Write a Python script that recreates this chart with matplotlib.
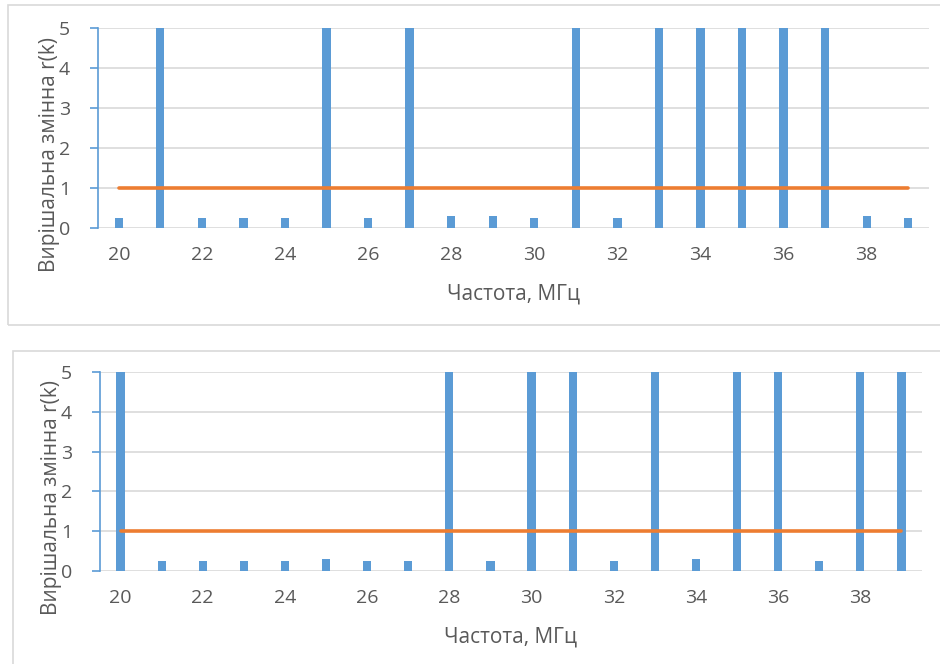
import matplotlib.pyplot as plt
from matplotlib.patches import Rectangle

# Частоти, МГц
freqs = list(range(20, 40))
# Вирішальна змінна r(k), верхній графік
r_top = [0.25, 5, 0.25, 0.25, 0.25, 5, 0.25, 5, 0.3, 0.3,
         0.25, 5, 0.25, 5, 5, 5, 5, 5, 0.3, 0.25]
# Вирішальна змінна r(k), нижній графік
r_bottom = [5, 0.25, 0.25, 0.25, 0.25, 0.3, 0.25, 0.25, 5, 0.25,
            5, 5, 0.25, 5, 0.3, 5, 5, 0.25, 5, 5]
# Поріг
threshold = [1] * len(freqs)
tick_labels = [str(f) if f % 2 == 0 else '' for f in freqs]

W, H = 940, 664
plt.rcParams['font.family'] = ['Open Sans', 'DejaVu Sans']
text_color = '#595959'
blue = '#5B9BD5'
orange = '#ED7D31'

fig = plt.figure(figsize=(W / 100, H / 100), dpi=100)


def px_axes(left, top, right, bottom):
    return fig.add_axes([left / W, 1 - bottom / H, (right - left) / W, (bottom - top) / H])


def frame(left, top, right, bottom):
    r = Rectangle((left / W, 1 - bottom / H), (right - left) / W, (bottom - top) / H,
                  transform=fig.transFigure, fill=False, edgecolor='#D9D9D9', linewidth=1.2)
    fig.patches.append(r)


def draw_panel(ax, values):
    x = list(range(len(freqs)))
    ax.bar(x, values, width=0.2, color=blue, zorder=2)
    ax.plot(x, threshold, color=orange, linewidth=2.6, zorder=3, solid_capstyle='round')
    ax.set_xlim(-0.5, len(freqs) - 0.5)
    ax.set_ylim(0, 5)
    ax.set_yticks(range(6))
    ax.set_xticks(x)
    ax.set_xticklabels(tick_labels)
    ax.grid(axis='y', color='#D9D9D9', linewidth=1.2, zorder=0)
    for s in ['top', 'right', 'bottom']:
        ax.spines[s].set_visible(False)
    ax.spines['left'].set_color(blue)
    ax.spines['left'].set_linewidth(1.2)
    ax.tick_params(axis='y', colors=blue, length=6, width=1.2, labelsize=14,
                   labelcolor=text_color, pad=14)
    ax.tick_params(axis='x', length=0, labelsize=14, labelcolor=text_color, pad=13)
    ax.set_xlabel('Частота, МГц', fontsize=15, color=text_color, labelpad=14)
    ax.set_ylabel('Вирішальна змінна r(k)', fontsize=15, color=text_color)
    ax.yaxis.set_label_coords(-0.046, 0.37)


frame(8, 5, 945, 325)
frame(13, 351, 945, 670)

ax1 = px_axes(98, 28, 929, 228)
draw_panel(ax1, r_top)

ax2 = px_axes(100, 372, 922, 571)
draw_panel(ax2, r_bottom)

fig.savefig('out.png', dpi=100, facecolor='white')
